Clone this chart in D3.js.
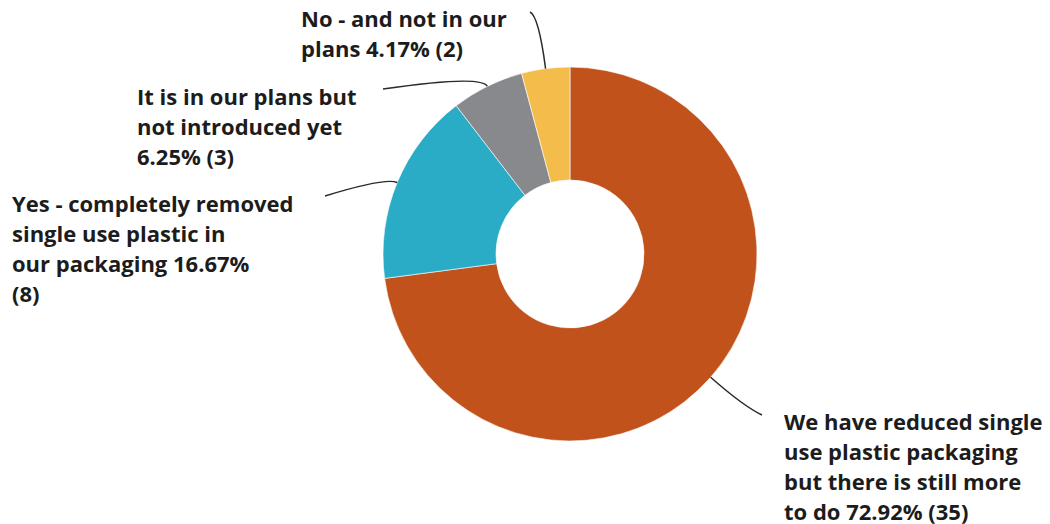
<!DOCTYPE html>
<html>
<head>
<meta charset="utf-8">
<script src="https://cdn.jsdelivr.net/npm/d3@7"></script>
<style>
  html, body { margin: 0; padding: 0; background: #fff; }
  svg { display: block; }
  .label { font-family: "Open Sans", sans-serif; font-weight: 700; font-size: 22px; fill: #1c1c1c; }
</style>
</head>
<body>
<svg id="chart" width="1050" height="524"></svg>
<script>
// Survey answers, in drawing order (clockwise from 12 o'clock)
const categories = [
  "We have reduced single use plastic packaging but there is still more to do",
  "Yes - completely removed single use plastic in our packaging",
  "It is in our plans but not introduced yet",
  "No - and not in our plans"
];
const counts = [35, 8, 3, 2];
const colors = ["#C2521B", "#2AACC6", "#88898D", "#F4BC4B"];

// Words per wrapped label line
const lineWords = [
  [4, 3, 5, 4],
  [4, 4, 3, 1],
  [6, 3, 2],
  [6, 3]
];

// Label placement: text anchor (left x, first-line centre y), leader end point, leader bend radius
const labelLayout = [
  { x: 784, y: 423, end: [762, 415], bend: 232 },
  { x: 12,  y: 205, end: [325, 196], bend: 200 },
  { x: 137, y: 98,  end: [383, 89],  bend: 200 },
  { x: 301, y: 20,  end: [530, 12],  bend: 240 }
];

const cx = 570, cy = 254, outerR = 187, innerR = 74, lineH = 30, baseOff = 6.5;

const total = d3.sum(counts);
const pctFmt = d3.format(".2f");
const data = categories.map((c, i) => ({
  category: c, count: counts[i], color: colors[i],
  text: `${c} ${pctFmt(counts[i] / total * 100)}% (${counts[i]})`,
  words: lineWords[i], layout: labelLayout[i]
}));

const svg = d3.select("#chart");
const g = svg.append("g").attr("transform", `translate(${cx},${cy})`);

const pie = d3.pie().sort(null).value(d => d.count).startAngle(0).endAngle(2 * Math.PI);
const arc = d3.arc().innerRadius(innerR).outerRadius(outerR);
const arcs = pie(data);

g.selectAll("path.slice")
  .data(arcs)
  .join("path")
  .attr("class", "slice")
  .attr("d", arc)
  .attr("fill", d => d.data.color)
  .attr("stroke", "#fff")
  .attr("stroke-width", 0.6);

const polar = (a, r) => [r * Math.sin(a), -r * Math.cos(a)];

// Curved leader lines from each slice to its label
svg.selectAll("path.leader")
  .data(arcs)
  .join("path")
  .attr("class", "leader")
  .attr("fill", "none")
  .attr("stroke", "#2b2b2b")
  .attr("stroke-width", 1.5)
  .attr("d", d => {
    const mid = (d.startAngle + d.endAngle) / 2;
    const s = polar(mid, outerR);
    const c = polar(mid, d.data.layout.bend);
    const e = d.data.layout.end;
    return `M${cx + s[0]},${cy + s[1]} Q${cx + c[0]},${cy + c[1]} ${e[0]},${e[1]}`;
  });

// Wrapped labels
const labels = svg.selectAll("text.label")
  .data(data)
  .join("text")
  .attr("class", "label")
  .attr("x", d => d.layout.x)
  .attr("y", d => d.layout.y + baseOff);

labels.each(function (d) {
  const words = d.text.split(" ");
  let idx = 0;
  const t = d3.select(this);
  d.words.forEach((n, li) => {
    t.append("tspan")
      .attr("x", d.layout.x)
      .attr("y", d.layout.y + baseOff + li * lineH)
      .text(words.slice(idx, idx + n).join(" "));
    idx += n;
  });
});
</script>
</body>
</html>
